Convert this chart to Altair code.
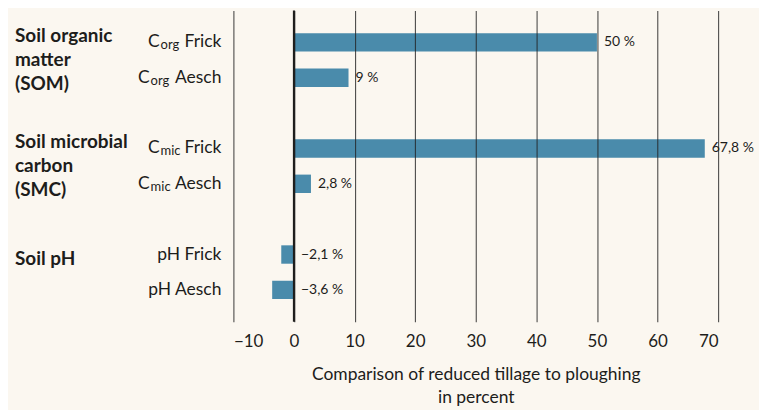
import altair as alt
import pandas as pd

# ---- data ----
row_ids = ["Corg Frick", "Corg Aesch", "Cmic Frick", "Cmic Aesch", "pH Frick", "pH Aesch"]
row_prefix = ["C", "C", "C", "C", "", ""]
row_sub = ["org", "org", "mic", "mic", "", ""]
row_names = ["Frick", "Aesch", "Frick", "Aesch", "pH Frick", "pH Aesch"]
values = [50, 9, 67.8, 2.8, -2.1, -3.6]
value_labels = ["50 %", "9 %", "67,8 %", "2,8 %", "\u22122,1 %", "\u22123,6 %"]

group_labels = ["Soil organic\nmatter\n(SOM)", "Soil microbial\ncarbon\n(SMC)", "Soil pH"]
group_anchor = ["Corg Frick", "Cmic Frick", "pH Frick"]

y_domain = ["Corg Frick", "Corg Aesch", "gap1", "Cmic Frick", "Cmic Aesch", "gap2", "pH Frick", "pH Aesch"]
x_ticks = [-10, 0, 10, 20, 30, 40, 50, 60, 70]

df = pd.DataFrame({"row": row_ids, "prefix": row_prefix, "sub": row_sub,
                   "name": row_names, "value": values, "label": value_labels})
gdf = pd.DataFrame({"group": group_labels, "row": group_anchor})

FONT = "Lato"
INK = "#1d1d1b"
BAR = "#4a8bab"
BG = "#fbf7f0"

yenc = alt.Y("row:N", scale=alt.Scale(domain=y_domain, paddingInner=0.48, paddingOuter=0.64), axis=None)
xscale = alt.Scale(domain=[-10, 70], nice=False, zero=False)

base = alt.Chart(df)

bars = base.mark_bar(color=BAR).encode(
    x=alt.X("value:Q", scale=xscale,
            axis=alt.Axis(values=x_ticks, grid=True, gridColor="#222222", gridWidth=1.1, gridOpacity=0.8,
                          ticks=False, domain=False, labelFontSize=17, labelColor=INK, labelFont=FONT,
                          labelPadding=12, zindex=1,
                          title=["Comparison of reduced tillage to ploughing", "in percent"],
                          titleFont=FONT, titleFontSize=17.5, titleFontWeight="normal", titleColor=INK,
                          titlePadding=16, titleLineHeight=23)),
    x2=alt.datum(0),
    y=yenc,
)

zero = alt.Chart(pd.DataFrame({"v": [0]})).mark_rule(color=INK, strokeWidth=2.2).encode(
    x=alt.X("v:Q", scale=xscale)
)

vlabels = base.transform_calculate(pos="max(datum.value, 0)").mark_text(
    align="left", baseline="middle", dx=7, fontSize=14, font=FONT, color=INK
).encode(x=alt.X("pos:Q", scale=xscale), y=yenc, text="label:N")

names = base.mark_text(align="right", baseline="middle", fontSize=17.5, font=FONT, color=INK).encode(
    x=alt.value(-12), y=yenc, text="name:N")


def prefix_layers(which, c_right, sub_left):
    d = base.transform_filter(f"datum.prefix != '' && datum.name == '{which}'")
    c = d.mark_text(align="right", baseline="middle", fontSize=17.5, font=FONT, color=INK).encode(
        x=alt.value(c_right), y=yenc, text="prefix:N")
    s = d.mark_text(align="left", baseline="middle", dy=3, fontSize=13, font=FONT, color=INK).encode(
        x=alt.value(sub_left), y=yenc, text="sub:N")
    return c + s


pre_frick = prefix_layers("Frick", -74, -73)
pre_aesch = prefix_layers("Aesch", -84, -83)

gbase = alt.Chart(gdf)
groups_multi = gbase.transform_filter("indexof(datum.group, '\\n') >= 0").mark_text(
    align="left", baseline="middle", dy=-6, lineBreak="\n", lineHeight=24,
    fontSize=19, fontWeight="bold", font=FONT, color=INK
).encode(x=alt.value(-219), y=yenc, text="group:N")
groups_single = gbase.transform_filter("indexof(datum.group, '\\n') < 0").mark_text(
    align="left", baseline="middle", dy=5,
    fontSize=19, fontWeight="bold", font=FONT, color=INK
).encode(x=alt.value(-219), y=yenc, text="group:N")

chart = alt.layer(bars, zero, vlabels, names, pre_frick, pre_aesch, groups_multi, groups_single).properties(
    width=486, height=312, background=BG,
    padding={"left": 7, "top": 0, "right": 5, "bottom": 5},
).configure_view(stroke=None)

chart.save("out.html", embed_options={"renderer": "svg", "actions": False})
